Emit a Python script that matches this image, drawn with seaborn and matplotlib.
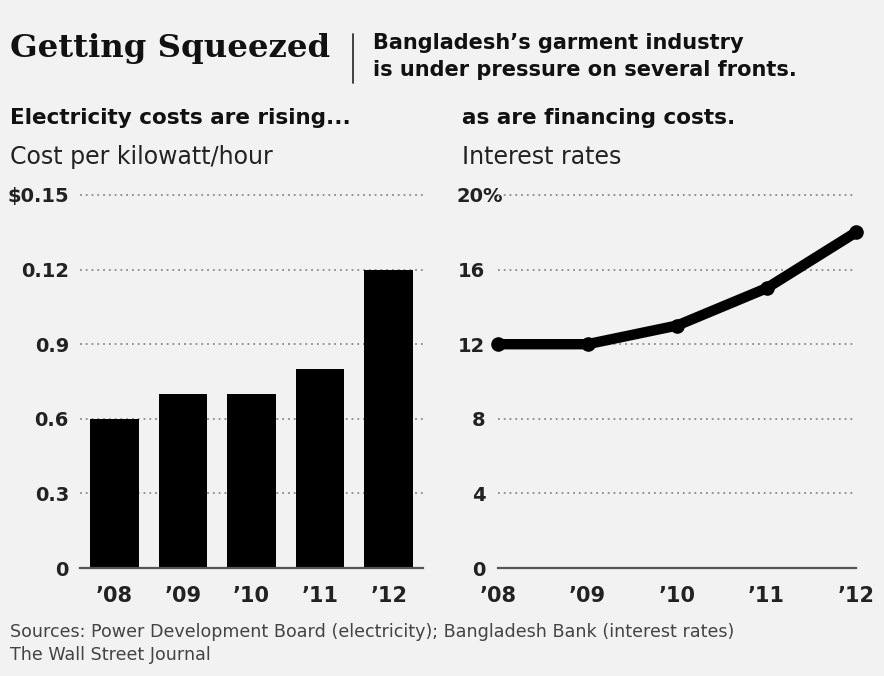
import matplotlib
matplotlib.use("Agg")
import matplotlib.pyplot as plt
import matplotlib.transforms as mtrans
import seaborn as sns
import pandas as pd
from matplotlib.lines import Line2D

years = ["\u201908", "\u201909", "\u201910", "\u201911", "\u201912"]
electricity = [0.06, 0.07, 0.07, 0.08, 0.12]
interest = [12, 12, 13, 15, 18]
elec_ticks = [0, 0.03, 0.06, 0.09, 0.12, 0.15]
elec_tick_labels = ["0", "0.3", "0.6", "0.9", "0.12", "$0.15"]
rate_ticks = [0, 4, 8, 12, 16, 20]
rate_tick_labels = ["0", "4", "8", "12", "16", "20%"]

sns.set_theme(style="white")
plt.rcParams["font.family"] = ["DejaVu Sans"]

BG = "#f2f2f2"
TXT = "#111111"
fig = plt.figure(figsize=(8.84, 6.76), dpi=100, facecolor=BG)

W, H = 884, 676
def ax_rect(x0, y0, x1, y1):
    return [x0 / W, 1 - y1 / H, (x1 - x0) / W, (y1 - y0) / H]

ax1 = fig.add_axes(ax_rect(80, 195, 423, 568))
ax2 = fig.add_axes(ax_rect(498, 195, 856, 568))

df1 = pd.DataFrame({"year": years, "cost": electricity})
df2 = pd.DataFrame({"year": years, "rate": interest})

sns.barplot(data=df1, x="year", y="cost", color="black", width=0.71,
            saturation=1, ax=ax1, edgecolor="none", zorder=3)
sns.lineplot(data=df2, x="year", y="rate", color="black", linewidth=7.5,
             marker="o", markersize=10.5, markeredgewidth=0, ax=ax2,
             zorder=3, clip_on=False, solid_capstyle="round",
             solid_joinstyle="round")

for ax, ticks, labels, top in [(ax1, elec_ticks, elec_tick_labels, 0.15),
                               (ax2, rate_ticks, rate_tick_labels, 20)]:
    ax.set_facecolor(BG)
    ax.set_ylim(0, top)
    ax.set_yticks(ticks)
    ax.set_yticklabels(labels, fontsize=14, fontweight="bold", color="#222222")
    ax.set_xlabel("")
    ax.set_ylabel("")
    for s in ["top", "right", "left"]:
        ax.spines[s].set_visible(False)
    ax.spines["bottom"].set_color("#555555")
    ax.spines["bottom"].set_linewidth(1.6)
    ax.spines["bottom"].set_zorder(4)
    ax.tick_params(axis="x", length=6, width=1.2, color="#555555",
                   direction="out", pad=7)
    for lbl in ax.get_xticklabels():
        lbl.set_fontsize(15)
        lbl.set_fontweight("bold")
        lbl.set_color("#222222")
    for t in ticks[1:]:
        ax.axhline(t, color="#8a8a8a", linewidth=1.3,
                   linestyle=(0, (1, 2.2)), zorder=1, clip_on=False)

ax1.tick_params(axis="y", length=0, pad=8)
ax2.tick_params(axis="y", length=0, pad=9)
ax1.set_xlim(-0.5, 4.5)
ax2.set_xlim(0, 4)

# let the % sign hang past the number column
top_lbl = ax2.get_yticklabels()[-1]
top_lbl.set_transform(top_lbl.get_transform() +
                      mtrans.ScaledTranslation(0.17, 0, fig.dpi_scale_trans))

# Header text
fig.text(10 / W, 1 - 48 / H, "Getting Squeezed", family="DejaVu Serif",
         fontweight="bold", fontsize=23.3, color=TXT, va="center", ha="left")
fig.add_artist(Line2D([353 / W, 353 / W], [1 - 34 / H, 1 - 83 / H],
                      color="#333333", linewidth=1.3))
fig.text(373 / W, 1 - 43 / H, "Bangladesh\u2019s garment industry",
         fontsize=15, fontweight="semibold", color=TXT, va="center")
fig.text(373 / W, 1 - 70 / H, "is under pressure on several fronts.",
         fontsize=15, fontweight="semibold", color=TXT, va="center")

fig.text(10 / W, 1 - 118 / H, "Electricity costs are rising...",
         fontsize=15.5, fontweight="bold", color=TXT, va="center")
fig.text(462 / W, 1 - 118 / H, "as are financing costs.",
         fontsize=15.5, fontweight="bold", color=TXT, va="center")
fig.text(10 / W, 1 - 157 / H, "Cost per kilowatt/hour",
         fontsize=17, color="#222222", va="center")
fig.text(462 / W, 1 - 157 / H, "Interest rates",
         fontsize=17, color="#222222", va="center")

fig.text(10 / W, 1 - 632 / H,
         "Sources: Power Development Board (electricity); Bangladesh Bank (interest rates)",
         fontsize=12.6, color="#444444", va="center")
fig.text(10 / W, 1 - 655 / H, "The Wall Street Journal",
         fontsize=12.6, color="#444444", va="center")

fig.savefig("out.png", dpi=100, facecolor=BG)
